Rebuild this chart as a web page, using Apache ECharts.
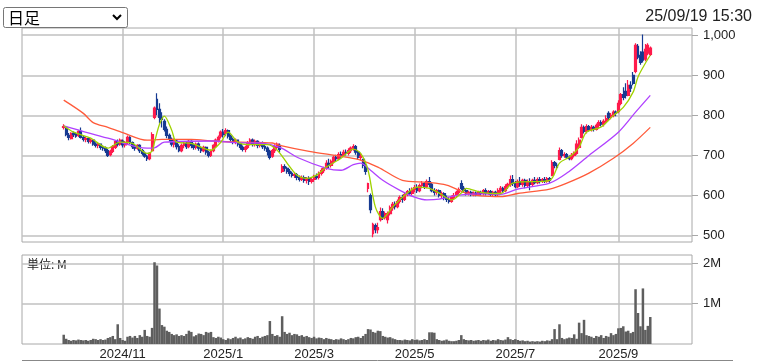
<!DOCTYPE html>
<html><head><meta charset="utf-8">
<script src="https://cdn.jsdelivr.net/npm/echarts@6/dist/echarts.min.js"></script>
<style>html,body{margin:0;padding:0;background:#fff}#c{width:758px;height:361px}</style>
</head><body><div id="c"></div>
<script>
// ---- data ----
const padLeft = 17, padRight = 17;              // empty trading slots at both ends
const monthLabels = ['2024/11','2025/1','2025/3','2025/5','2025/7','2025/9'];
const monthStartIdx = [24, 65, 102, 143, 184, 226]; // data index of 1st trading day
const priceTicks = [500, 600, 700, 800, 900, 1000];
const volumeTicks = [1, 2];
const title = '25/09/19 15:30';
const periodLabel = '日足';
const volumeUnit = '単位: M';

const opens = [
770,768,750,742,755,752,750,760,745,740, 742,735,738,728,725,728,720,718,712,702,
710,720,735,728,736,726,732,745,732,722, 718,725,712,705,698,692,712,795,840,815,
795,785,765,750,740,728,736,722,712,725, 730,722,735,725,720,728,718,712,720,708,
700,712,725,738,748,758,755,762,748,740, 735,738,728,720,715,720,730,738,728,735,
725,730,722,718,710,698,712,720,725,660, 672,668,660,655,650,652,645,640,645,638,
642,635,640,648,645,655,662,668,680,675, 685,695,692,702,700,708,705,712,718,722,
708,695,690,675,618,600,505,525,515,540, 560,545,540,555,570,578,572,585,595,590,
602,610,605,615,620,612,625,630,622,635, 628,612,608,612,600,605,595,590,585,595,
600,608,630,618,612,605,608,602,606,603, 608,605,612,606,610,603,608,602,612,618,
612,622,628,640,630,622,635,628,638,625, 635,628,638,632,640,635,640,636,642,650,
682,675,690,712,700,702,696,692,700,705, 720,745,770,760,772,765,770,765,775,782,
778,785,805,795,800,808,810,830,852,860, 850,875,900,910,972,950,958,940,955,952];
const closes = [
772,752,745,755,752,748,760,745,740,742, 735,738,728,725,728,720,718,712,700,710,
722,735,728,738,726,732,745,732,722,718, 725,712,705,698,692,705,752,818,815,795,
790,765,750,742,728,738,722,712,725,730, 722,735,725,720,728,718,712,720,708,700,
712,725,738,745,758,752,762,748,740,735, 738,728,720,715,720,732,738,728,735,725,
730,722,718,710,695,712,722,728,715,672, 668,660,655,650,652,645,640,645,638,642,
635,640,648,645,655,662,668,680,675,685, 695,692,702,700,708,705,712,718,722,708,
695,698,675,660,630,565,528,515,520,560, 545,555,555,570,578,572,585,595,590,602,
610,605,615,620,612,625,630,622,635,628, 612,608,612,600,605,595,590,585,595,600,
608,615,618,612,605,608,602,606,603,608, 605,612,606,610,603,608,602,612,618,612,
622,628,640,630,622,635,628,638,625,635, 628,638,632,640,635,640,636,642,638,682,
675,670,712,700,702,696,692,700,705,728, 738,770,760,772,765,770,765,775,782,778,
785,792,795,800,808,805,830,852,845,850, 875,868,880,975,945,932,938,965,975,968];
const lows = [
765,748,738,740,746,744,746,742,735,733, 730,730,724,720,718,714,712,706,696,698,
706,716,722,724,720,720,728,728,716,712, 714,706,700,694,686,688,710,790,800,780,
770,760,743,735,722,720,715,708,708,718, 716,718,718,714,715,712,706,708,702,695,
696,708,720,732,742,745,748,742,735,728, 728,722,714,710,708,716,725,722,722,718,
720,716,712,700,690,694,706,714,708,656, 660,654,648,645,644,638,635,636,632,630,
626,630,634,640,640,650,656,664,668,670, 680,686,688,694,696,700,700,706,712,702,
690,688,668,652,608,556,496,506,505,535, 539,540,530,550,562,565,568,580,582,586,
598,600,600,608,606,608,618,616,618,620, 608,600,602,595,594,588,584,580,582,590,
596,602,614,606,600,600,598,598,598,599, 600,600,600,602,598,598,596,598,606,606,
608,616,622,624,618,618,622,622,618,620, 613,624,628,628,630,631,631,632,632,648,
668,665,688,694,694,692,688,688,695,702, 716,742,755,755,760,760,760,762,768,772,
772,780,788,790,795,798,805,825,838,842, 848,858,875,905,940,926,932,935,950,948];
const highs = [
778,770,756,758,760,757,763,770,750,746, 745,742,740,733,732,730,725,722,716,714,
726,738,740,742,740,736,750,748,735,726, 728,728,716,710,702,708,758,822,855,830,
808,790,772,755,745,742,740,728,730,735, 736,740,738,730,732,732,722,724,722,712,
715,728,742,750,762,766,768,765,752,745, 742,740,732,725,724,736,743,742,740,738,
734,735,728,722,714,716,728,732,730,678, 678,672,666,660,658,656,650,650,650,646,
648,645,652,655,660,668,672,688,692,690, 700,702,708,710,714,715,718,722,728,726,
712,705,692,680,632,605,532,530,532,570, 568,560,560,575,584,585,590,600,602,608,
614,618,620,626,628,630,636,634,640,646, 632,618,616,615,610,608,600,596,600,606,
612,620,638,624,616,612,612,610,610,612, 612,616,618,614,614,612,612,618,624,622,
628,632,650,651,636,640,646,642,642,640, 643,642,646,645,646,644,646,646,646,688,
686,682,720,716,708,706,700,706,710,738, 745,778,775,778,776,776,774,780,788,788,
790,800,810,806,813,812,838,856,870,880, 888,885,908,980,978,960,1002,978,980,972];
const volumes = [
0.23,0.13,0.10,0.08,0.10,0.09,0.11,0.10,0.09,0.10, 0.08,0.10,0.13,0.12,0.10,0.12,0.10,0.11,0.15,0.17,
0.20,0.12,0.49,0.15,0.10,0.08,0.18,0.20,0.16,0.20, 0.15,0.22,0.18,0.35,0.20,0.18,0.40,2.03,1.95,0.88,
0.47,0.43,0.33,0.30,0.25,0.22,0.24,0.20,0.22,0.20, 0.25,0.33,0.30,0.19,0.22,0.26,0.25,0.22,0.30,0.28,
0.30,0.17,0.15,0.18,0.16,0.12,0.10,0.14,0.12,0.15, 0.18,0.14,0.16,0.12,0.14,0.17,0.15,0.13,0.18,0.20,
0.15,0.18,0.20,0.22,0.57,0.25,0.20,0.22,0.18,0.69, 0.30,0.25,0.28,0.22,0.25,0.24,0.20,0.22,0.18,0.20,
0.17,0.15,0.18,0.14,0.16,0.15,0.12,0.15,0.13,0.12, 0.10,0.12,0.11,0.14,0.12,0.10,0.12,0.15,0.14,0.17,
0.18,0.15,0.20,0.25,0.37,0.36,0.30,0.28,0.33,0.32, 0.20,0.18,0.16,0.17,0.14,0.12,0.10,0.10,0.09,0.11,
0.10,0.09,0.12,0.10,0.11,0.09,0.10,0.12,0.10,0.29, 0.29,0.28,0.12,0.10,0.08,0.09,0.11,0.08,0.07,0.07,
0.08,0.10,0.22,0.12,0.10,0.09,0.10,0.08,0.09,0.10, 0.08,0.10,0.09,0.11,0.08,0.10,0.09,0.12,0.10,0.09,
0.11,0.17,0.12,0.10,0.12,0.10,0.08,0.09,0.07,0.08, 0.06,0.07,0.06,0.07,0.06,0.08,0.07,0.09,0.08,0.12,
0.37,0.12,0.49,0.15,0.12,0.14,0.16,0.15,0.24,0.13, 0.53,0.27,0.60,0.22,0.20,0.18,0.15,0.20,0.18,0.22,
0.15,0.20,0.18,0.27,0.22,0.25,0.39,0.40,0.44,0.31, 0.33,0.27,0.30,1.36,0.77,0.44,1.38,0.35,0.45,0.67];
// moving averages read at selected trading days: [data index, value]
const maShort = [[0,774],[4,758],[11,743],[18,718],[23,733],[28,730],[34,705],[36,711],[37,733],[39,777],[41,798],[44,763],[46,733],[52,730],[60,713],[64,733],[67,758],[71,733],[75,727],[83,727],[87,713],[91,681],[95,651],[99,643],[103,651],[107,671],[113,693],[118,716],[121,705],[124,663],[127,571],[130,543],[134,571],[140,606],[144,621],[149,618],[153,606],[158,589],[162,606],[164,618],[170,608],[178,605],[183,631],[198,638],[202,681],[206,696],[210,721],[213,758],[219,771],[224,800],[228,820],[232,858],[234,896],[237,930],[239,950]];
const maMid = [[0,774],[18,743],[34,718],[37,719],[41,733],[61,736],[70,732],[80,731],[88,720],[96,693],[107,668],[113,663],[118,677],[121,681],[125,663],[130,638],[137,613],[143,596],[148,589],[153,591],[161,601],[170,604],[178,603],[185,616],[198,631],[205,656],[214,700],[226,758],[233,808],[239,850]];
const maLong = [[0,838],[8,805],[12,782],[18,770],[24,757],[34,738],[40,740],[52,740],[61,736],[72,733],[85,731],[88,725],[100,710],[113,698],[120,690],[128,671],[138,638],[148,633],[156,626],[164,606],[170,599],[178,597],[185,605],[198,616],[205,631],[214,656],[224,693],[232,730],[239,770]];

// ---- build ----
const n = closes.length;
const total = padLeft + n + padRight;
const cats = [];
for (let i = 0; i < total; i++) cats.push(String(i));
const labelAt = {};
monthStartIdx.forEach((d, k) => { labelAt[d + padLeft] = monthLabels[k]; });
const candle = [], vol = [];
for (let i = 0; i < n; i++) {
  candle.push([i + padLeft, opens[i], closes[i], lows[i], highs[i]]);
  vol.push([i + padLeft, volumes[i]]);
}
const shift = a => a.map(p => [p[0] + padLeft, p[1]]);
const isMonth = (idx) => labelAt[idx] !== undefined;

const UP = '#ff1a4c', DOWN = '#163a92';
const GRID = '#c0c0c0', FRAME = '#a8a8a8';
const FONT = 'Liberation Sans, Arial, sans-serif';

const chart = echarts.init(document.getElementById('c'), null, {renderer: 'canvas'});
chart.setOption({
  animation: false,
  grid: [
    {left: 22, top: 28, width: 670, height: 214, show: true, borderColor: FRAME, borderWidth: 1, backgroundColor: 'transparent'},
    {left: 22, top: 255, width: 670, height: 89.5, show: true, borderColor: FRAME, borderWidth: 1, backgroundColor: 'transparent'}
  ],
  xAxis: [
    {type: 'category', gridIndex: 0, data: cats, boundaryGap: false,
     axisLine: {show: false}, axisTick: {show: false}, axisLabel: {show: false},
     splitLine: {show: true, interval: (i) => isMonth(i), lineStyle: {color: GRID, width: 1.5}}},
    {type: 'category', gridIndex: 1, data: cats, boundaryGap: false,
     axisLine: {show: false}, axisTick: {show: false},
     axisLabel: {show: true, interval: (i) => isMonth(i), formatter: (v) => labelAt[+v] || '',
                 color: '#222', fontSize: 13, fontFamily: FONT, margin: 4},
     splitLine: {show: true, interval: (i) => isMonth(i), lineStyle: {color: GRID, width: 1.5}}}
  ],
  yAxis: [
    {type: 'value', gridIndex: 0, position: 'right', min: 484, max: 1018, scale: true,
     axisLine: {show: false},
     axisTick: {show: true, customValues: priceTicks, length: 6, lineStyle: {color: FRAME}},
     axisLabel: {show: true, customValues: priceTicks, margin: 11, color: '#222', fontSize: 13, fontFamily: FONT,
                 formatter: (v) => v.toLocaleString('en-US')},
     splitLine: {show: true, lineStyle: {color: GRID, width: 1.5}}},
    {type: 'value', gridIndex: 1, position: 'right', min: 0, max: 2.21,
     axisLine: {show: false},
     axisTick: {show: true, customValues: volumeTicks, length: 6, lineStyle: {color: FRAME}},
     axisLabel: {show: true, customValues: volumeTicks, margin: 11, color: '#222', fontSize: 13, fontFamily: FONT,
                 formatter: (v) => v + 'M'},
     splitLine: {show: true, lineStyle: {color: GRID, width: 1.5}}}
  ],
  series: [
    {type: 'candlestick', xAxisIndex: 0, yAxisIndex: 0, data: candle, encode: {x: 0, y: [1, 2, 3, 4]},
     barWidth: 2.4,
     itemStyle: {color: UP, color0: DOWN, borderColor: UP, borderColor0: DOWN, borderWidth: 1.2}},
    {type: 'line', xAxisIndex: 0, yAxisIndex: 0, data: shift(maLong), showSymbol: false, smooth: 0.3,
     lineStyle: {color: '#ff5a3a', width: 1.3}, z: 3},
    {type: 'line', xAxisIndex: 0, yAxisIndex: 0, data: shift(maMid), showSymbol: false, smooth: 0.3,
     lineStyle: {color: '#b040ff', width: 1.3}, z: 3},
    {type: 'line', xAxisIndex: 0, yAxisIndex: 0, data: shift(maShort), showSymbol: false, smooth: 0.3,
     lineStyle: {color: '#9fd200', width: 1.3}, z: 4},
    {type: 'bar', xAxisIndex: 1, yAxisIndex: 1, data: vol, barWidth: 2.5, barGap: '-100%',
     itemStyle: {color: '#5e5e5e'}}
  ],
  graphic: [
    {type: 'rect', shape: {x: 3.5, y: 7.5, width: 124, height: 20, r: 2},
     style: {fill: '#fff', stroke: '#767676', lineWidth: 1}},
    {type: 'text', x: 8, y: 18, style: {text: periodLabel, fill: '#000', font: '16px "Noto Sans CJK JP"', verticalAlign: 'middle'}},
    {type: 'polyline', shape: {points: [[113, 15], [117, 19], [121, 15]]},
     style: {stroke: '#000', lineWidth: 2, fill: null}},
    {type: 'text', x: 752, y: 17, style: {text: title, fill: '#222', font: '16px ' + FONT, align: 'right', verticalAlign: 'middle'}},
    {type: 'text', x: 27, y: 264, style: {text: volumeUnit, fill: '#222', font: '12px "Noto Sans CJK JP"', verticalAlign: 'middle'}},
    {type: 'line', shape: {x1: 22, y1: 360.5, x2: 733, y2: 360.5}, style: {stroke: '#888', lineWidth: 1}}
  ]
});
</script></body></html>
